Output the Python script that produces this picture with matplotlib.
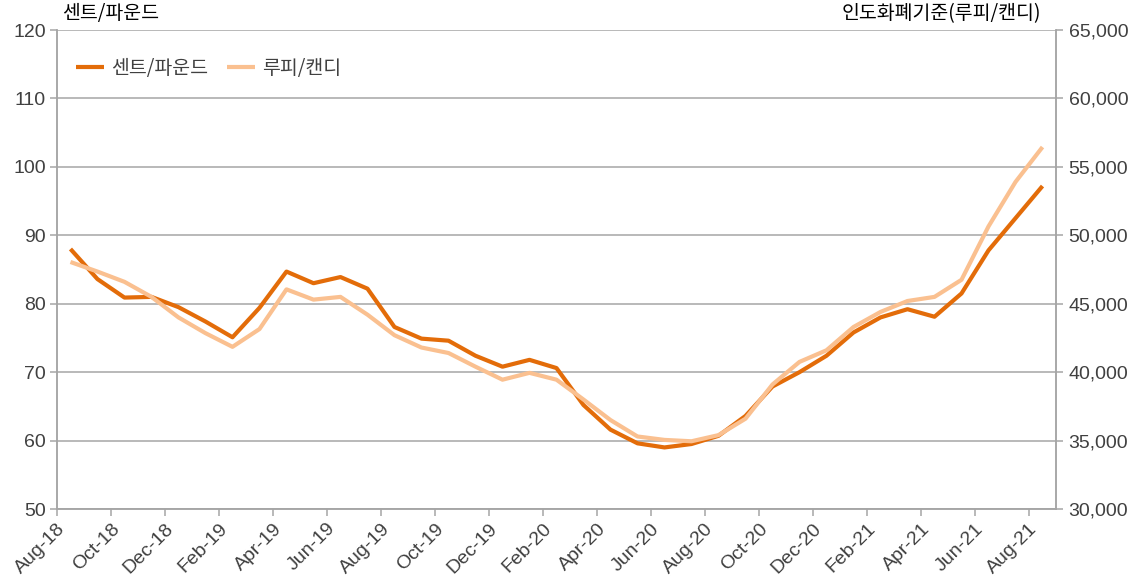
import matplotlib
matplotlib.use("Agg")
import matplotlib.pyplot as plt
import matplotlib.ticker as ticker
import numpy as np

# ── Data ─────────────────────────────────────────────────────────────────────
months = [
    "Aug-18", "Sep-18", "Oct-18", "Nov-18", "Dec-18", "Jan-19", "Feb-19",
    "Mar-19", "Apr-19", "May-19", "Jun-19", "Jul-19", "Aug-19", "Sep-19",
    "Oct-19", "Nov-19", "Dec-19", "Jan-20", "Feb-20", "Mar-20", "Apr-20",
    "May-20", "Jun-20", "Jul-20", "Aug-20", "Sep-20", "Oct-20", "Nov-20",
    "Dec-20", "Jan-21", "Feb-21", "Mar-21", "Apr-21", "May-21", "Jun-21",
    "Jul-21", "Aug-21",
]
cents_per_pound = [
    88.0, 83.6, 80.9, 81.0, 79.5, 77.4, 75.1, 79.4, 84.7, 83.0,
    83.9, 82.2, 76.6, 74.9, 74.6, 72.4, 70.8, 71.8, 70.6, 65.2,
    61.6, 59.6, 59.0, 59.5, 60.7, 63.6, 67.9, 70.0, 72.4, 75.8,
    78.0, 79.2, 78.1, 81.5, 87.8, 92.5, 97.2,
]
rupee_per_candy = [
    48050, 47350, 46600, 45500, 44000, 42850, 41850, 43150, 46050, 45300,
    45500, 44200, 42700, 41800, 41400, 40400, 39450, 39950, 39450, 38000,
    36500, 35300, 35050, 34950, 35400, 36600, 39100, 40750, 41600, 43300,
    44400, 45200, 45500, 46750, 50650, 53900, 56450,
]

ORANGE = "#E36C09"
LIGHT = "#FAC090"
GREY = "#A6A6A6"
TXT = "#404040"

plt.rcParams["font.family"] = ["Liberation Sans", "Noto Sans CJK KR", "DejaVu Sans"]
KR = ["Noto Sans CJK KR", "DejaVu Sans"]
FS = 14
KFS = 14

fig = plt.figure(figsize=(11.35, 5.83), dpi=100)
ax = fig.add_axes([0.0502, 0.1269, 0.8802, 0.8216])
ax2 = ax.twinx()

x = np.arange(len(months))
l1, = ax.plot(x, cents_per_pound, color=ORANGE, lw=3.0, zorder=3,
              solid_capstyle="butt", label="센트/파운드")
l2, = ax2.plot(x, rupee_per_candy, color=LIGHT, lw=3.0, zorder=3,
               solid_capstyle="butt", label="루피/캔디")

# ── Axes ─────────────────────────────────────────────────────────────────────
ax.set_xlim(-0.5, len(months) - 0.5)
ax.set_ylim(50, 120)
ax2.set_ylim(30000, 65000)
ax.set_yticks(np.arange(50, 121, 10))
ax2.set_yticks(np.arange(30000, 65001, 5000))
ax2.yaxis.set_major_formatter(ticker.FuncFormatter(lambda v, p: f"{int(v):,}"))

tick_pos = np.arange(-0.5, len(months) - 0.5, 2)
ax.set_xticks(tick_pos)
ax.set_xticklabels(months[0::2], rotation=45, ha="right",
                   rotation_mode="anchor")

ax.yaxis.grid(True, color=GREY, lw=1.1)
ax.set_axisbelow(True)
for a in (ax, ax2):
    for s in a.spines.values():
        s.set_color(GREY)
        s.set_linewidth(1.1)
    a.spines["top"].set_visible(False)
    a.tick_params(colors=GREY, labelcolor=TXT, labelsize=FS, length=5,
                  width=1.1, direction="out")
ax.tick_params(axis="x", pad=3)
ax.tick_params(axis="y", pad=3)
ax2.tick_params(axis="y", pad=4)

# ── Titles & legend ──────────────────────────────────────────────────────────
fig.text(0.0545, 0.995, "센트/파운드", ha="left", va="top", fontsize=KFS,
         color="black", family=KR)
fig.text(0.917, 0.995, "인도화폐기준(루피/캔디)", ha="right", va="top",
         fontsize=KFS, color="black", family=KR)

leg = ax.legend([l1, l2], ["센트/파운드", "루피/캔디"], loc="upper left",
                bbox_to_anchor=(0.005, 0.97), ncol=2, frameon=False,
                prop={"family": KR, "size": KFS}, handlelength=1.45,
                handletextpad=0.35, columnspacing=1.0, borderaxespad=0.3)
for t in leg.get_texts():
    t.set_color(TXT)

fig.savefig("out.png", dpi=100, facecolor="white")
